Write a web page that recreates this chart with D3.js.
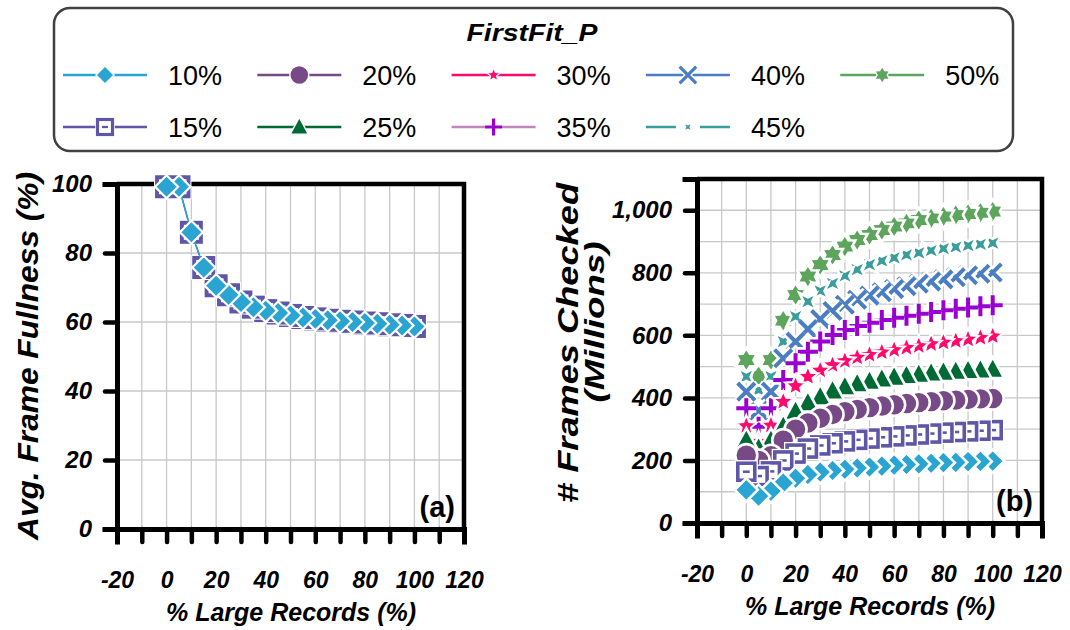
<!DOCTYPE html>
<html lang="en">
    <head>
        <meta charset="utf-8">
        <title>FirstFit_P</title>
        <script type="text/javascript" src="https://cdn.jsdelivr.net/npm/d3@7"></script>
        <style>
          body { margin: 0; background: #fff; }
          text { font-family: Arial, "Liberation Sans", sans-serif; }
        </style>
    </head>
    <body>
        <script type="text/javascript">
          // % large records on the x axis
          var largePct = [0, 5, 10, 15, 20, 25, 30, 35, 40, 45, 50, 55, 60, 65, 70, 75, 80, 85, 90, 95, 100];
          // (a) avg frame fullness, same for every series
          var fullness = [99.2, 99.2, 86, 75.8, 70.5, 67.9, 65.8, 64.3, 63.3, 62.6, 61.9, 61.3, 60.9, 60.5, 60.2, 60, 59.7, 59.5, 59.2, 59, 58.7];
          // (b) frames checked (millions) per series
          var p10 = [106, 86, 102, 128, 143, 155, 163, 168, 172, 176, 179, 182, 185, 187, 189, 191, 193, 194, 196, 197, 198];
          var p15 = [164, 150, 165, 200, 222, 238, 248, 255, 261, 266, 270, 274, 277, 280, 283, 286, 289, 291, 293, 295, 297];
          var p20 = [217, 200, 215, 265, 300, 320, 335, 347, 356, 363, 369, 374, 378, 382, 385, 388, 391, 393, 395, 397, 398];
          var p25 = [265, 240, 265, 310, 358, 385, 404, 423, 436, 446, 454, 461, 467, 472, 476, 480, 483, 486, 488, 490, 492];
          var p30 = [310, 260, 312, 388, 438, 468, 488, 505, 518, 529, 538, 546, 553, 560, 566, 572, 577, 582, 587, 592, 597];
          var p35 = [367, 308, 367, 457, 511, 548, 580, 601, 617, 630, 640, 649, 656, 663, 669, 675, 680, 685, 689, 693, 696];
          var p40 = [420, 360, 420, 527, 580, 620, 652, 678, 698, 714, 727, 738, 748, 757, 765, 772, 779, 786, 792, 797, 801];
          var p45 = [468, 425, 468, 580, 660, 708, 742, 766, 790, 810, 826, 838, 848, 857, 864, 871, 877, 882, 887, 891, 895];
          var p50 = [521, 470, 521, 647, 729, 788, 825, 857, 884, 905, 921, 937, 948, 958, 969, 974, 980, 985, 988, 992, 996];

          var names = ["10%", "15%", "20%", "25%", "30%", "35%", "40%", "45%", "50%"];
          var markers = ["diamond", "square", "circle", "triangle", "star5", "plus", "cross", "star4", "star6"];
          var lineColors = ["#2AA4D0", "#5E56A6", "#774A87", "#006A35", "#FF0A6C", "#C286BC", "#4A7DC1", "#3A9C9B", "#5DA55D"];
          var markColors = ["#2AA4D0", "#5E56A6", "#774A87", "#006A35", "#FF0A6C", "#9A00D0", "#4A7DC1", "#3A9C9B", "#5DA55D"];
          var frames = [p10, p15, p20, p25, p30, p35, p40, p45, p50];

          var xTicks = [-20, 0, 20, 40, 60, 80, 100, 120];

          var svg = d3.select("body").append("svg")
                      .attr("width", 1070)
                      .attr("height", 630);

          function starPath(n, r, inner, rot) {
            var pts = [];
            for (var i = 0; i < 2 * n; i++) {
              var a = rot + i * Math.PI / n - Math.PI / 2;
              var rr = i % 2 == 0 ? r : r * inner;
              pts.push([Math.cos(a) * rr, Math.sin(a) * rr]);
            }
            return "M" + pts.map(function(p) { return p[0].toFixed(2) + "," + p[1].toFixed(2); }).join("L") + "Z";
          }

          // draw one marker centred on 0,0 inside g, with a white rim of width w
          function drawMarker(g, type, r, fill, w, lw) {
            if (w === undefined) w = 2.6;
            if (lw === undefined) lw = 3.2;
            if (type == "diamond") {
              g.append("path").attr("d", "M0," + (-r) + "L" + r + ",0L0," + r + "L" + (-r) + ",0Z")
                .attr("fill", fill).attr("stroke", "#fff").attr("stroke-width", w);
            } else if (type == "square") {
              g.append("rect").attr("x", -r).attr("y", -r).attr("width", 2 * r).attr("height", 2 * r)
                .attr("fill", "none").attr("stroke", "#fff").attr("stroke-width", r * 0.42 + w);
              g.append("rect").attr("x", -r).attr("y", -r).attr("width", 2 * r).attr("height", 2 * r)
                .attr("fill", "#fff").attr("stroke", fill).attr("stroke-width", r * 0.42);
              g.append("line").attr("x1", -r * 0.4).attr("x2", r * 0.4).attr("y1", 0).attr("y2", 0)
                .attr("stroke", fill).attr("stroke-width", r * 0.3);
            } else if (type == "circle") {
              g.append("circle").attr("r", r).attr("fill", fill).attr("stroke", "#fff").attr("stroke-width", w);
            } else if (type == "triangle") {
              g.append("path").attr("d", "M0," + (-r) + "L" + (r * 0.95) + "," + (r * 0.75) + "L" + (-r * 0.95) + "," + (r * 0.75) + "Z")
                .attr("fill", fill).attr("stroke", "#fff").attr("stroke-width", w);
            } else if (type == "star5") {
              g.append("path").attr("d", starPath(5, r, 0.45, 0))
                .attr("fill", fill).attr("stroke", "#fff").attr("stroke-width", w * 0.8);
            } else if (type == "star6") {
              g.append("path").attr("d", starPath(6, r, 0.6, 0))
                .attr("fill", fill).attr("stroke", "#fff").attr("stroke-width", w);
            } else if (type == "star4") {
              g.append("path").attr("d", starPath(4, r, 0.36, Math.PI / 4))
                .attr("fill", fill).attr("stroke", "#fff").attr("stroke-width", w);
            } else {
              var d = "M" + (-r) + ",0L" + r + ",0M0," + (-r) + "L0," + r;
              if (type == "cross") {
                var k = r * 0.72;
                d = "M" + (-k) + "," + (-k) + "L" + k + "," + k + "M" + (-k) + "," + k + "L" + k + "," + (-k);
              }
              g.append("path").attr("d", d).attr("stroke", "#fff").attr("stroke-width", lw + 2 * w).attr("fill", "none");
              g.append("path").attr("d", d).attr("stroke", fill).attr("stroke-width", lw).attr("fill", "none");
            }
          }

          // Legend
          var legend = svg.append("g").attr("class", "legend");
          legend.append("rect")
                .attr("x", 54).attr("y", 8)
                .attr("width", 959).attr("height", 143)
                .attr("rx", 16)
                .attr("fill", "#fff")
                .attr("stroke", "#404040")
                .attr("stroke-width", 2.5);
          legend.append("text")
                .attr("x", 532).attr("y", 41)
                .attr("text-anchor", "middle")
                .attr("textLength", 131)
                .attr("lengthAdjust", "spacingAndGlyphs")
                .style("font-size", "24px")
                .style("font-weight", "bold")
                .style("font-style", "italic")
                .text("FirstFit_P");

          var legendSize = [9, 7.5, 9.5, 9.5, 7, 8.5, 11.5, 6, 8.5];
          names.forEach(function(name, i) {
            // legend fills column by column: 10/15, 20/25, ...
            var col = Math.floor(i / 2);
            var row = i % 2;
            var x0 = 63 + col * 194.3;
            var y0 = row == 0 ? 75 : 127;
            var item = legend.append("g");
            item.append("line")
                .attr("x1", x0).attr("x2", x0 + 84)
                .attr("y1", y0).attr("y2", y0)
                .attr("stroke", lineColors[i])
                .attr("stroke-width", 2.5);
            var m = item.append("g").attr("transform", "translate(" + (x0 + 42) + "," + y0 + ")");
            if (markers[i] == "star4") {
              m.append("rect").attr("x", -12).attr("y", -4).attr("width", 24).attr("height", 8).attr("fill", "#fff");
            }
            drawMarker(m, markers[i], legendSize[i], markColors[i], 1.4);
            item.append("text")
                .attr("x", x0 + 105).attr("y", y0 + 10)
                .style("font-size", "27px")
                .text(name);
          });

          // shared axis drawing
          function drawFrame(left, right, top, bottom, yScale, yMinor, yMajor, yFmt) {
            var xScale = d3.scaleLinear().domain([-20, 120]).range([left, right]);
            var g = svg.append("g");
            // gridlines
            g.selectAll(".vgrid").data(d3.range(-10, 120, 10)).enter().append("line")
              .attr("x1", function(d) { return xScale(d); })
              .attr("x2", function(d) { return xScale(d); })
              .attr("y1", top).attr("y2", bottom)
              .attr("stroke", "#c8c8c8").attr("stroke-width", 1.3);
            g.selectAll(".hgrid").data(yMinor).enter().append("line")
              .attr("x1", left).attr("x2", right)
              .attr("y1", function(d) { return yScale(d); })
              .attr("y2", function(d) { return yScale(d); })
              .attr("stroke", "#c8c8c8").attr("stroke-width", 1.3);

            var axes = svg.append("g").attr("class", "axes");
            // top/right border
            axes.append("path")
                .attr("d", "M" + left + "," + top + "H" + right + "V" + bottom)
                .attr("fill", "none").attr("stroke", "#000").attr("stroke-width", 4.5);
            // x axis with ticks every 10
            var xAxis = d3.axisBottom(xScale)
                          .tickValues(d3.range(-20, 121, 10))
                          .tickSize(13)
                          .tickFormat(function(d) { return xTicks.indexOf(d) >= 0 ? d : ""; });
            var xg = axes.append("g")
                .attr("transform", "translate(0," + bottom + ")")
                .call(xAxis);
            xg.select(".domain").attr("stroke-width", 5).attr("stroke-linecap", "square");
            xg.selectAll(".tick line").attr("stroke-width", 4.5).attr("stroke-linecap", "round");
            xg.selectAll(".tick text")
              .attr("y", 59).attr("dy", 0)
              .style("font", "italic bold 23px Arial")
              .attr("fill", "#000");

            var yAxis = d3.axisLeft(yScale)
                          .tickValues(yMajor)
                          .tickSize(12)
                          .tickFormat(yFmt);
            var yg = axes.append("g")
                .attr("transform", "translate(" + left + ",0)")
                .call(yAxis);
            yg.select(".domain").attr("stroke-width", 5).attr("stroke-linecap", "square");
            yg.selectAll(".tick line").attr("stroke-width", 4.5).attr("stroke-linecap", "round");
            yg.selectAll(".tick text")
              .attr("x", -25)
              .style("font", "italic bold 24px Arial")
              .attr("fill", "#000");
            return xScale;
          }

          // (a) Avg. Frame Fullness
          var yA = d3.scaleLinear().domain([0, 100]).range([529, 184]);
          var xA = drawFrame(117, 464, 184, 529, yA, [20, 40, 60, 80], [0, 20, 40, 60, 80, 100], function(d) { return d; });

          var plotA = svg.append("g");
          var lineA = d3.line()
                        .x(function(d, i) { return xA(largePct[i]); })
                        .y(function(d) { return yA(d); });
          // 15% series sits right under 10%
          plotA.append("path").datum(fullness).attr("d", lineA)
               .attr("fill", "none").attr("stroke", lineColors[1]).attr("stroke-width", 1.5);
          fullness.slice().reverse().forEach(function(v, j) {
            var i = fullness.length - 1 - j;
            var m = plotA.append("g").attr("transform", "translate(" + xA(largePct[i]) + "," + yA(v) + ")");
            drawMarker(m, "square", 9.5, lineColors[1], 2);
          });
          plotA.append("path").datum(fullness).attr("d", lineA)
               .attr("fill", "none").attr("stroke", lineColors[0]).attr("stroke-width", 1.5);
          fullness.slice().reverse().forEach(function(v, j) {
            var i = fullness.length - 1 - j;
            var m = plotA.append("g").attr("transform", "translate(" + xA(largePct[i]) + "," + yA(v) + ")");
            drawMarker(m, "diamond", 11.5, markColors[0], 2.2);
          });

          svg.append("text")
             .attr("x", 455).attr("y", 517)
             .attr("text-anchor", "end")
             .style("font", "bold 29px Arial")
             .text("(a)");

          svg.append("text")
             .attr("transform", "translate(38,356) rotate(-90)")
             .attr("text-anchor", "middle")
             .attr("textLength", 368)
             .attr("lengthAdjust", "spacingAndGlyphs")
             .style("font", "italic bold 30px Arial")
             .text("Avg. Frame Fullness (%)");

          svg.append("text")
             .attr("x", 291).attr("y", 621)
             .attr("text-anchor", "middle")
             .style("font", "italic bold 25px Arial")
             .text("% Large Records (%)");

          // (b) # Frames Checked
          var yB = d3.scaleLinear().domain([0, 1100]).range([523, 179]);
          var xB = drawFrame(697, 1042, 179, 523, yB, d3.range(100, 1100, 100), [0, 200, 400, 600, 800, 1000], d3.format(","));

          var plotB = svg.append("g");
          var sizeB = [11.5, 8.5, 11, 12, 11, 10, 12, 12, 12];
          for (var s = frames.length - 1; s >= 0; s--) {
            var vals = frames[s];
            for (var i = vals.length - 1; i >= 0; i--) {
              var m = plotB.append("g").attr("transform", "translate(" + xB(largePct[i]) + "," + yB(vals[i]) + ")");
              drawMarker(m, markers[s], sizeB[s], markColors[s], 2.6, 4);
            }
          }

          svg.append("text")
             .attr("x", 1033).attr("y", 511)
             .attr("text-anchor", "end")
             .style("font", "bold 29px Arial")
             .text("(b)");

          svg.append("text")
             .attr("transform", "translate(578,343) rotate(-90)")
             .attr("text-anchor", "middle")
             .attr("textLength", 320)
             .attr("lengthAdjust", "spacingAndGlyphs")
             .style("font", "italic bold 30px Arial")
             .text("# Frames Checked");
          svg.append("text")
             .attr("transform", "translate(604,322) rotate(-90)")
             .attr("text-anchor", "middle")
             .attr("textLength", 161)
             .attr("lengthAdjust", "spacingAndGlyphs")
             .style("font", "italic bold 28px Arial")
             .text("(Millions)");

          svg.append("text")
             .attr("x", 870).attr("y", 615)
             .attr("text-anchor", "middle")
             .style("font", "italic bold 25px Arial")
             .text("% Large Records (%)");
        </script>
    </body>
</html>
